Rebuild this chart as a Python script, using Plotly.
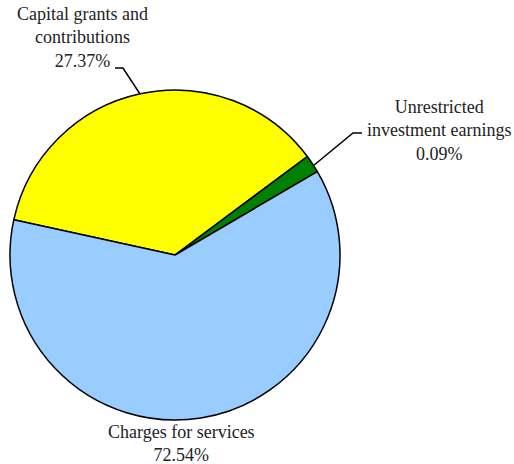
import plotly.graph_objects as go

W, H = 514, 464

# Data
categories = ["Capital grants and contributions", "Unrestricted investment earnings", "Charges for services"]
label_text = ["Capital grants and<br>contributions<br>27.37%",
              "Unrestricted<br>investment earnings<br>0.09%",
              "Charges for services<br>72.54%"]
# slice shares as drawn in the picture
drawn_shares = [36.4, 1.75, 61.85]
colors = ["#FFFF00", "#008000", "#99CCFF"]


def px(x, y):
    return x / W, 1 - y / H


fig = go.Figure()
x0, y0 = px(10, 420)
x1, y1 = px(340, 90)
fig.add_trace(go.Pie(
    labels=categories,
    values=drawn_shares,
    sort=False,
    direction="clockwise",
    rotation=282.3,
    marker=dict(colors=colors, line=dict(color="black", width=1.5)),
    textinfo="none",
    hoverinfo="label",
    showlegend=False,
    domain=dict(x=[x0, x1], y=[y0, y1]),
))

font = dict(family="Liberation Serif, Times New Roman, serif", size=18, color="#222222")
ann_pos = [(82, 37), (439, 130), (181, 443)]
annotations = []
for t, (x, y) in zip(label_text, ann_pos):
    ax, ay = px(x, y)
    annotations.append(dict(x=ax, y=ay, xref="paper", yref="paper", text=t,
                            showarrow=False, font=font, align="center",
                            xanchor="center", yanchor="middle"))

leaders = [[(115, 68), (123, 68), (140, 94)],
           [(362, 133), (353, 133), (313, 166)]]
shapes = []
for pts in leaders:
    p = [px(x, y) for x, y in pts]
    path = "M %f %f " % p[0] + " ".join("L %f %f" % q for q in p[1:])
    shapes.append(dict(type="path", path=path, xref="paper", yref="paper",
                       line=dict(color="black", width=1.5)))

fig.update_layout(
    width=W, height=H,
    margin=dict(l=0, r=0, t=0, b=0),
    paper_bgcolor="white",
    plot_bgcolor="white",
    annotations=annotations,
    shapes=shapes,
)

fig.write_html("out.html",
               config={"displayModeBar": False},
               post_script="document.body.style.margin='0';document.body.style.overflow='hidden';")
